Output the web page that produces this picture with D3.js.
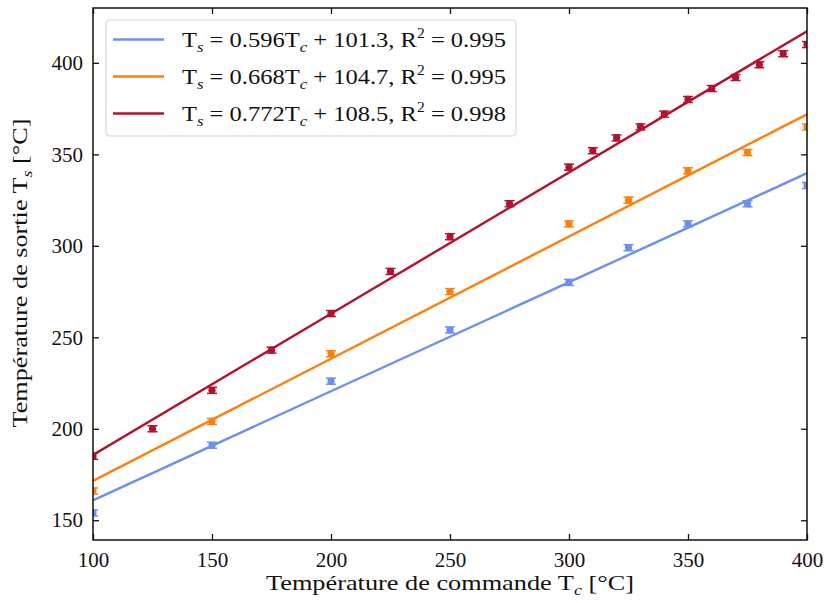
<!DOCTYPE html>
<html>
<head>
<meta charset="utf-8">
<script src="https://cdn.jsdelivr.net/npm/d3@7"></script>
<style>
  body { margin: 0; background: #fff; }
  text { font-family: "Liberation Serif", "DejaVu Serif", serif; fill: #111; }
</style>
</head>
<body>
<div id="chart"></div>
<script>
// data
const xBlue = [100, 150, 200, 250, 300, 325, 350, 375, 400];
const yBlue = [154, 191, 226, 254, 280, 299, 312, 323, 333];

const xOrange = [100, 150, 200, 250, 300, 325, 350, 375, 400];
const yOrange = [166, 204, 241, 275, 312, 325, 341, 351, 365];

const xRed = [100, 125, 150, 175, 200, 225, 250, 275, 300, 310, 320, 330, 340, 350, 360, 370, 380, 390, 400];
const yRed = [185, 200, 221, 243, 263, 286, 305, 323, 343, 352, 359, 365, 372, 380, 386, 392, 399, 405, 410];

// fit coefficients [slope, intercept, r2]
const fits = [[0.596, 101.3, 0.995], [0.668, 104.7, 0.995], [0.772, 108.5, 0.998]];
const colors = ["#6c8ff0", "#ff7f0e", "#b3122e"];

const xTicks = [100, 150, 200, 250, 300, 350, 400];
const yTicks = [150, 200, 250, 300, 350, 400];

const W = 825, H = 603;
const margin = { top: 8, right: 18, bottom: 63, left: 93 };
const width = W - margin.left - margin.right;
const height = H - margin.top - margin.bottom;

const svg = d3.select("#chart").append("svg")
    .attr("width", W)
    .attr("height", H);

const g = svg.append("g")
    .attr("transform", "translate(" + margin.left + "," + margin.top + ")");

const x = d3.scaleLinear().domain([100, 400]).range([0, width]);
const y = d3.scaleLinear().domain([139.2, 430]).range([height, 0]);

const series = [
    { xs: xBlue, ys: yBlue },
    { xs: xOrange, ys: yOrange },
    { xs: xRed, ys: yRed }
];

g.append("clipPath").attr("id", "clip")
    .append("rect").attr("width", width).attr("height", height);

const plot = g.append("g").attr("clip-path", "url(#clip)");

// fit lines
fits.forEach((f, i) => {
    plot.append("line")
        .attr("x1", x(100)).attr("x2", x(400))
        .attr("y1", y(f[0] * 100 + f[1]))
        .attr("y2", y(f[0] * 400 + f[1]))
        .attr("stroke", colors[i])
        .attr("stroke-width", 2.4);
});

// points with small error bars
series.forEach((s, i) => {
    const pts = s.xs.map((v, k) => ({ x: v, y: s.ys[k] }));
    const grp = plot.append("g").attr("fill", colors[i]).attr("stroke", colors[i]);
    const pt = grp.selectAll("g.pt").data(pts).enter().append("g")
        .attr("class", "pt")
        .attr("transform", d => "translate(" + x(d.x) + "," + y(d.y) + ")");
    pt.append("line").attr("x1", 0).attr("x2", 0).attr("y1", -3).attr("y2", 3).attr("stroke-width", 1.5);
    pt.append("line").attr("x1", -5).attr("x2", 5).attr("y1", -3).attr("y2", -3).attr("stroke-width", 1.5);
    pt.append("line").attr("x1", -5).attr("x2", 5).attr("y1", 3).attr("y2", 3).attr("stroke-width", 1.5);
    pt.append("circle").attr("r", 3.6).attr("stroke", "none");
});

// axes, ticks inward on all four sides
const tickLen = 6;
g.append("g")
    .attr("transform", "translate(0," + height + ")")
    .call(d3.axisBottom(x).tickValues(xTicks).tickSizeInner(-tickLen).tickSizeOuter(0).tickPadding(12))
    .call(a => a.select(".domain").remove());
g.append("g")
    .call(d3.axisTop(x).tickValues(xTicks).tickSizeInner(-tickLen).tickSizeOuter(0).tickFormat(""))
    .call(a => a.select(".domain").remove());
g.append("g")
    .call(d3.axisLeft(y).tickValues(yTicks).tickSizeInner(-tickLen).tickSizeOuter(0).tickPadding(10))
    .call(a => a.select(".domain").remove());
g.append("g")
    .attr("transform", "translate(" + width + ",0)")
    .call(d3.axisRight(y).tickValues(yTicks).tickSizeInner(-tickLen).tickSizeOuter(0).tickFormat(""))
    .call(a => a.select(".domain").remove());

g.selectAll(".tick line").attr("stroke", "#111").attr("stroke-width", 1.3);
g.selectAll(".tick text")
    .style("font-family", "'Liberation Serif', 'DejaVu Serif', serif")
    .style("font-size", "21px")
    .attr("fill", "#111");

g.append("rect")
    .attr("width", width).attr("height", height)
    .attr("fill", "none").attr("stroke", "#111").attr("stroke-width", 1.5);

// axis titles (stretched a bit, the original font is wider than Times)
function labelWithSub(sel, pre, sub, post) {
    sel.append("tspan").text(pre);
    sel.append("tspan").text(sub).attr("font-style", "italic")
        .attr("font-size", "15px").attr("dy", 5);
    sel.append("tspan").text(post).attr("dy", -5);
}

const xt = g.append("text")
    .attr("x", width / 2).attr("y", height + 50)
    .attr("text-anchor", "middle")
    .attr("textLength", 368)
    .attr("lengthAdjust", "spacingAndGlyphs")
    .style("font-size", "22px");
labelWithSub(xt, "Température de commande T", "c", " [°C]");

const yt = g.append("text")
    .attr("transform", "rotate(-90)")
    .attr("x", -height / 2 + 1).attr("y", -66)
    .attr("text-anchor", "middle")
    .attr("textLength", 309)
    .attr("lengthAdjust", "spacingAndGlyphs")
    .style("font-size", "22px");
labelWithSub(yt, "Température de sortie T", "s", " [°C]");

// legend
const leg = svg.append("g").attr("transform", "translate(106,20)");
leg.append("rect")
    .attr("width", 410).attr("height", 116)
    .attr("rx", 4)
    .attr("fill", "#fff").attr("fill-opacity", 0.85)
    .attr("stroke", "#d8d8d8").attr("stroke-width", 1.2);

fits.forEach((f, i) => {
    const ly = 19.5 + i * 37;
    leg.append("line")
        .attr("x1", 7).attr("x2", 58)
        .attr("y1", ly).attr("y2", ly)
        .attr("stroke", colors[i]).attr("stroke-width", 2.4);
    const t = leg.append("text")
        .attr("x", 76).attr("y", ly + 7)
        .attr("textLength", 324)
        .attr("lengthAdjust", "spacingAndGlyphs")
        .style("font-size", "22px");
    t.append("tspan").text("T");
    t.append("tspan").text("s").attr("font-style", "italic").attr("font-size", "15px").attr("dy", 5);
    t.append("tspan").text(" = " + f[0].toFixed(3) + "T").attr("dy", -5);
    t.append("tspan").text("c").attr("font-style", "italic").attr("font-size", "15px").attr("dy", 5);
    t.append("tspan").text(" + " + f[1].toFixed(1) + ", R").attr("dy", -5);
    t.append("tspan").text("2").attr("font-size", "14px").attr("dy", -9);
    t.append("tspan").text(" = " + f[2].toFixed(3)).attr("dy", 9);
});
</script>
</body>
</html>
